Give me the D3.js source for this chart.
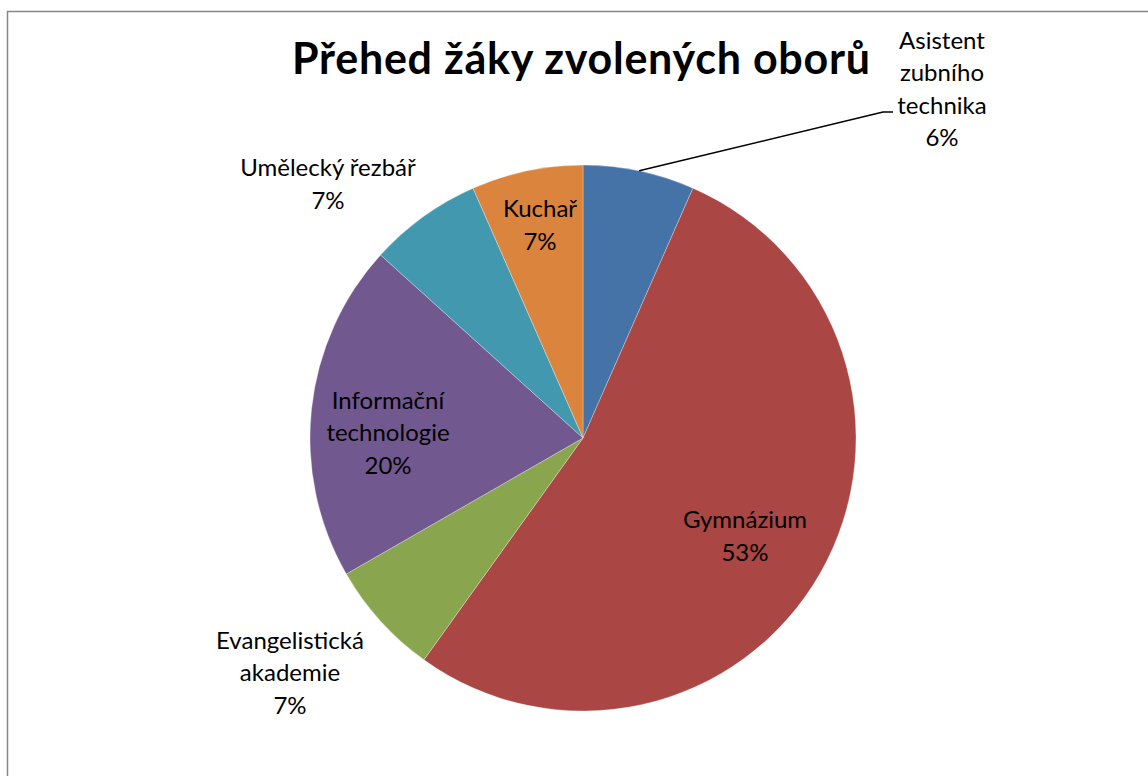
<!DOCTYPE html>
<html><head><meta charset="utf-8">
<script src="https://cdn.jsdelivr.net/npm/d3@7"></script>
<style>body{margin:0;background:#fff}svg{display:block}</style>
</head><body>
<svg id="c" width="1148" height="776"></svg>
<script>
const categories = ["Asistent zubního technika","Gymnázium","Evangelistická akademie","Informační technologie","Umělecký řezbář","Kuchař"];
const values = [6.6, 53.3, 6.8, 20.0, 6.7, 6.6];
const percentLabels = ["6%","53%","7%","20%","7%","7%"];
const labelLines = [["Asistent","zubního","technika"],["Gymnázium"],["Evangelistická","akademie"],["Informační","technologie"],["Umělecký řezbář"],["Kuchař"]];
const colors = ["#4572A7","#AA4643","#89A54E","#71588F","#4198AF","#DB843D"];
const title = "Přehed žáky zvolených oborů";

const svg = d3.select("#c");
const W = 1148, H = 776;
const font = "Lato, 'Open Sans', sans-serif";

svg.append("rect").attr("x",7.5).attr("y",11.5).attr("width",W+10).attr("height",H+10)
  .attr("fill","#fff").attr("stroke","#868686").attr("stroke-width",1.5);

svg.append("text").attr("x",292).attr("y",73.5)
  .attr("font-family",font).attr("font-weight","bold").attr("font-size",43)
  .attr("textLength",578).attr("lengthAdjust","spacing")
  .attr("fill","#000").text(title);

const cx = 583, cy = 438, R = 273;
const pie = d3.pie().sort(null).value(d=>d)(values);
const arc = d3.arc().innerRadius(0).outerRadius(R);
const g = svg.append("g").attr("transform",`translate(${cx},${cy})`);
g.selectAll("path").data(pie).join("path").attr("d",arc)
  .attr("fill",(d,i)=>colors[i]).attr("stroke","#fff").attr("stroke-width",0.3);

const labelPos = [[359,-349],[162,98],[-293,235],[-195,-5],[-255,-254],[-43,-213]];
const lh = 32.6;
labelPos.forEach((p,i)=>{
  const lines = labelLines[i].concat([percentLabels[i]]);
  const t = g.append("text").attr("text-anchor","middle")
    .attr("font-family",font).attr("font-size",24).attr("fill","#000");
  const y0 = p[1] - (lines.length-1)*lh/2;
  lines.forEach((l,k)=>{
    t.append("tspan").attr("x",p[0]).attr("y",y0+k*lh).attr("dy","0.35em").text(l);
  });
});

const a0 = pie[0];
const mid = (a0.startAngle + a0.endAngle)/2;
const sx = Math.sin(mid)*R, sy = -Math.cos(mid)*R;
g.append("polyline").attr("points",`${sx},${sy} ${300},${-326} ${310},${-326}`)
  .attr("fill","none").attr("stroke","#000").attr("stroke-width",1.5);
</script>
</body></html>
